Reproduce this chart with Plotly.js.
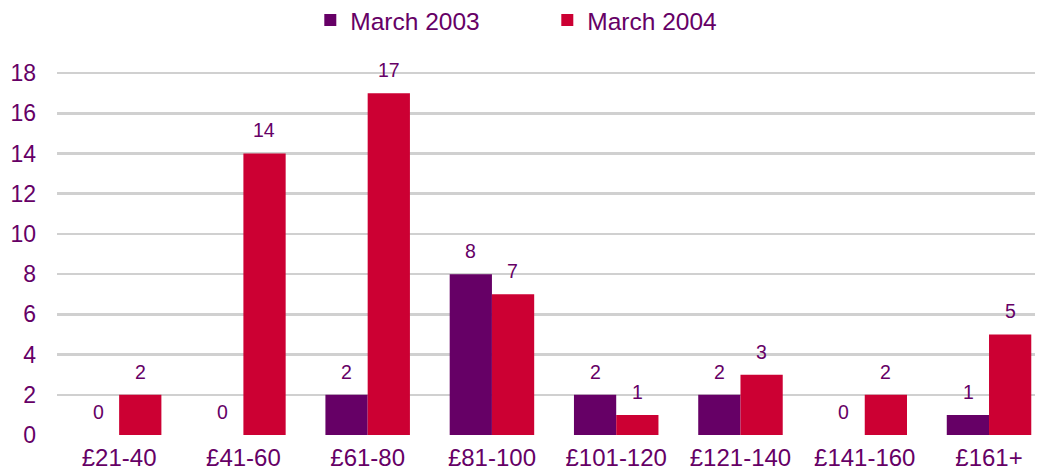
<!DOCTYPE html>
<html><head><meta charset="utf-8">
<script src="https://cdn.plot.ly/plotly-3.0.1.min.js"></script>
<style>html,body{margin:0;padding:0;background:#fff;overflow:hidden}</style>
</head><body>
<div id="chart" style="width:1037px;height:473px"></div>
<script>
const categories = ["£21-40","£41-60","£61-80","£81-100","£101-120","£121-140","£141-160","£161+"];
const march2003 = [0,0,2,8,2,2,0,1];
const march2004 = [2,14,17,7,1,3,2,5];
const yTicks = [0,2,4,6,8,10,12,14,16,18];

const txtColor = "#660066";
const fam = "Liberation Sans, Arial, sans-serif";

const traces = [
  {type:"bar", name:"March 2003", x:categories, y:march2003, marker:{color:"#660066"}},
  {type:"bar", name:"March 2004", x:categories, y:march2004, marker:{color:"#CC0033"}}
];

const annotations = [];
categories.forEach((c,i)=>{
  annotations.push({x:c, y:march2003[i], xref:"x", yref:"y", text:String(march2003[i]),
    showarrow:false, xshift:-21, yshift:10, yanchor:"bottom",
    font:{family:fam, size:19.5, color:txtColor}});
  annotations.push({x:c, y:march2004[i], xref:"x", yref:"y", text:String(march2004[i]),
    showarrow:false, xshift:21, yshift:10, yanchor:"bottom",
    font:{family:fam, size:19.5, color:txtColor}});
});

const layout = {
  width:1037, height:473,
  margin:{l:57, r:2, t:63, b:38, autoexpand:false},
  paper_bgcolor:"#fff", plot_bgcolor:"#fff",
  font:{family:fam, size:20, color:txtColor},
  barmode:"group", bargap:0.32, bargroupgap:0,
  showlegend:true,
  annotations:annotations,
  legend:{orientation:"h", x:0.259, xanchor:"left", y:1.176, yanchor:"top",
    font:{size:24.5, color:txtColor}, entrywidth:192, itemwidth:30},
  xaxis:{type:"category", range:[-0.5, 7.37], showgrid:false, showline:false, zeroline:false,
    ticks:"", ticklabelstandoff:6, tickfont:{size:24, color:txtColor}},
  yaxis:{range:[0,18.5], tickvals:yTicks, ticktext:yTicks.map(String), showgrid:true,
    gridcolor:"#D0D0D0", gridwidth:2.5, zeroline:false, showline:false, ticks:"",
    ticklabelstandoff:20, tickfont:{size:23, color:txtColor}}
};

Plotly.newPlot("chart", traces, layout, {displayModeBar:false, staticPlot:true});
</script>
</body></html>
